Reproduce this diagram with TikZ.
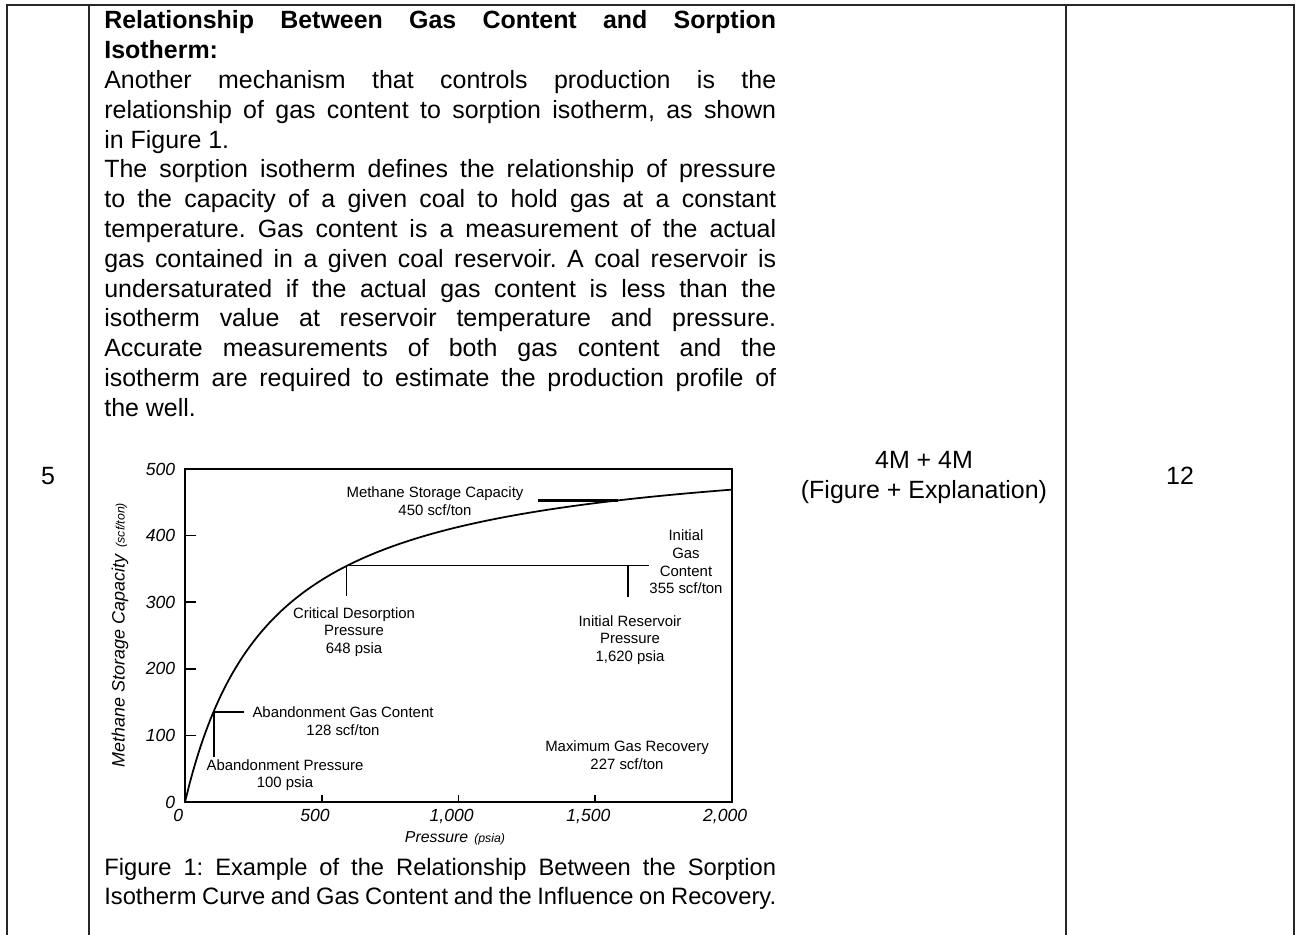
\documentclass[tikz,border=0pt]{standalone}
\usepackage{fontspec}
\setmainfont{Liberation Sans}
\usetikzlibrary{positioning}
\tikzset{
    %Define style for table rules
    tablerule/.style={draw=black!85, line width=0.8pt},
    %Define style for text lines
    bodyline/.style={anchor=base west, inner sep=0pt, font=\fontsize{14.2}{17}\selectfont\frenchspacing},
    capline/.style={anchor=base west, inner sep=0pt, font=\fontsize{13.5}{16}\selectfont\frenchspacing},
    cellnum/.style={anchor=base, inner sep=0pt, font=\fontsize{14.2}{17}\selectfont},
    %Define style for plot labels
    plotlabel/.style={align=center, inner sep=0pt, font=\fontsize{8.5}{10}\selectfont},
    axisnum/.style={inner sep=0pt, font=\fontsize{10}{12}\selectfont\itshape},
    % Define line styles
    plotframe/.style={line width=1.7pt},
    isocurve/.style={line width=1pt},
    guide/.style={line width=0.9pt}
}

\begin{document}
\begin{tikzpicture}[x=0.02cm, y=-0.02cm]
\useasboundingbox (0,0) rectangle (1309,935);

% table
\draw[tablerule] (7,935) -- (7,5) -- (1294,5) -- (1294,935);
\draw[tablerule] (89,5) -- (89,935);
\draw[tablerule] (1066,5) -- (1066,935);

\node[cellnum] (sno) at (48,485) {5};
\node[cellnum] (marks) at (924,469) {4M + 4M};
\node[cellnum] (split) at (924,499) {(Figure + Explanation)};
\node[cellnum] (total) at (1180,485) {12};

% text of the answer
\foreach \n/\txt in {
  0/{\bfseries Relationship Between Gas Content and Sorption},
  2/{Another mechanism that controls production is the},
  3/{relationship of gas content to sorption isotherm, as shown},
  5/{The sorption isotherm defines the relationship of pressure},
  6/{to the capacity of a given coal to hold gas at a constant},
  7/{temperature. Gas content is a measurement of the actual},
  8/{gas contained in a given coal reservoir. A coal reservoir is},
  9/{undersaturated if the actual gas content is less than the},
  10/{isotherm value at reservoir temperature and pressure.},
  11/{Accurate measurements of both gas content and the},
  12/{isotherm are required to estimate the production profile of}}
  \node[bodyline] (line\n) at (104,29+\n*29.8) {\makebox[13.44cm][s]{\txt}};
\node[bodyline] (line1) at (104,29+1*29.8) {\bfseries Isotherm:};
\node[bodyline] (line4) at (104,29+4*29.8) {in Figure 1.};
\node[bodyline] (line13) at (104,29+13*29.8) {the well.};

\node[capline] (cap1) at (104,875) {\makebox[13.44cm][s]{Figure 1: Example of the Relationship Between the Sorption}};
\node[capline] (cap2) at (104,904) {\makebox[13.44cm][s]{Isotherm Curve and Gas Content and the Influence on Recovery.}};

% sorption isotherm plot
\begin{scope}[shift={(185,802)}, xscale=0.2735, yscale=-0.666]
  \draw[isocurve] plot[domain=0:2000, samples=120, smooth] (\x,{542.6*(\x/(313.7+\x))});
  \draw[plotframe] (0,0) rectangle (2000,500);
  \foreach \v in {100,200,300,400}
    \draw[guide] (0,\v) -- (40,\v);
  \foreach \p in {500,1000,1500}
    \draw[guide] (\p,0) -- (\p,11);
  \foreach \v in {0,100,200,300,400,500}
    \node[axisnum, anchor=east] at (-35,\v) {\v};
  \foreach \p/\s in {0/0, 500/500, 1000/{1,000}, 1500/{1,500}, 2000/{2,000}}
    \node[axisnum, anchor=north] at (\p-25,-11) {\s};

  \coordinate (maxst) at (1291,453);
  \coordinate (maxstend) at (1583,453);
  \coordinate (crit) at (590,355);
  \coordinate (critdrop) at (590,309);
  \coordinate (initres) at (1620,355);
  \coordinate (initdrop) at (1620,308);
  \coordinate (gasend) at (1697,355);
  \coordinate (aband) at (105,135);
  \coordinate (abandend) at (216,135);
  \coordinate (abanddrop) at (105,68);

  \draw[line width=1.4pt] (maxst) -- (maxstend);
  \draw[guide] (critdrop) -- (crit) -- (gasend);
  \draw[guide] (initres) -- (initdrop);
  \draw[guide] (abanddrop) -- (aband) -- (abandend);
\end{scope}

\node[plotlabel] (lmax) at (435,501) {Methane Storage Capacity\\450 scf/ton};
\node[plotlabel] (lgas) at (686,562) {Initial\\Gas\\Content\\355 scf/ton};
\node[plotlabel] (lcrit) at (354,632) {Critical Desorption\\Pressure\\648 psia};
\node[plotlabel] (lres) at (630,640) {Initial Reservoir\\Pressure\\1,620 psia};
\node[plotlabel] (labg) at (343,721) {Abandonment Gas Content\\128 scf/ton};
\node[plotlabel] (labp) at (285,775) {Abandonment Pressure\\100 psia};
\node[plotlabel] (lrec) at (627,755) {Maximum Gas Recovery\\227 scf/ton};

\node[inner sep=0pt, rotate=90] (ytitle) at (120,635)
  {\fontsize{10.2}{12}\selectfont\itshape Methane Storage Capacity\hspace{0.15cm}{\fontsize{7}{8}\selectfont (scf/ton)}};
\node[inner sep=0pt] (xtitle) at (455,838)
  {\fontsize{9}{11}\selectfont\itshape Pressure\hspace{0.12cm}{\fontsize{7}{8}\selectfont (psia)}};
\end{tikzpicture}
\end{document}
